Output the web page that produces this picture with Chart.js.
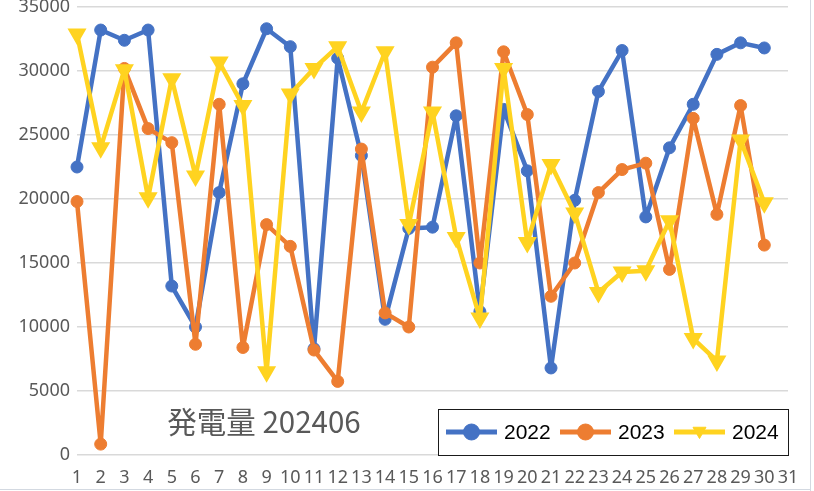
<!DOCTYPE html>
<html>
<head>
<meta charset="utf-8">
<script src="https://cdn.jsdelivr.net/npm/chart.js@4/dist/chart.umd.min.js"></script>
<style>
html,body{margin:0;padding:0;background:#fff;overflow:hidden}
#wrap{position:relative;width:814px;height:491px}
canvas{display:block}
</style>
</head>
<body>
<div id="wrap"><canvas id="c" width="814" height="491"></canvas></div>
<script>
// ---- data ----
const days = ['1','2','3','4','5','6','7','8','9','10','11','12','13','14','15','16','17','18','19','20','21','22','23','24','25','26','27','28','29','30','31'];
const yTicks = [0, 5000, 10000, 15000, 20000, 25000, 30000, 35000];
const seriesNames = ['2022', '2023', '2024'];
const chartTitle = '発電量 202406';
const s2022 = [22500, 33200, 32400, 33200, 13200, 10000, 20500, 29000, 33300, 31900, 8300, 31000, 23400, 10600, 17700, 17800, 26500, 11200, 27000, 22200, 6800, 19900, 28400, 31600, 18600, 24000, 27400, 31300, 32200, 31800, null];
const s2023 = [19800, 850, 30200, 25500, 24400, 8650, 27400, 8400, 18000, 16300, 8200, 5750, 23900, 11100, 10000, 30300, 32200, 15000, 31500, 26600, 12400, 15000, 20500, 22300, 22800, 14500, 26300, 18800, 27300, 16400, null];
const s2024 = [32900, 24000, 30100, 20100, 29400, 21800, 30700, 27300, 6500, 28200, 30200, 31900, 26800, 31500, 18000, 26800, 17000, 10700, 30200, 16600, 22700, 18900, 12700, 14300, 14400, 18300, 9100, 7350, 24600, 19700, null];

const colors = ['#4472C4', '#ED7D31', '#FFD320'];
const xFont = {family: '"Noto Sans", "Open Sans", sans-serif', size: 18, lineHeight: 1.0};
const yFont = {family: '"Noto Sans", "Open Sans", sans-serif', size: 18, lineHeight: 0.7};

function mkSet(label, data, color, style, order) {
  const tri = style === 'triangle';
  return {
    label: label,
    data: data,
    borderColor: color,
    backgroundColor: color,
    borderWidth: 4.5,
    borderJoinStyle: 'round',
    borderCapStyle: 'round',
    tension: 0,
    pointStyle: style,
    pointRotation: tri ? 180 : 0,
    pointRadius: tri ? 9 : 6,
    pointHoverRadius: tri ? 9 : 6,
    pointBorderWidth: tri ? 2 : 1,
    pointBackgroundColor: color,
    pointBorderColor: color,
    order: order,
    clip: false,
    spanGaps: false
  };
}

const overlayPlugin = {
  id: 'overlay',
  afterDraw(chart) {
    const ctx = chart.ctx;
    const ca = chart.chartArea;
    ctx.save();
    // title inside plot
    ctx.font = '29.5px "Noto Sans CJK JP", "Noto Sans", sans-serif';
    ctx.fillStyle = '#595959';
    ctx.textAlign = 'center';
    ctx.textBaseline = 'middle';
    ctx.fillText(chartTitle, ca.left + 187, ca.bottom - 33);

    // legend box
    const bw = 350, bh = 46;
    const bx = ca.right - bw, by = ca.bottom - bh;
    ctx.fillStyle = '#ffffff';
    ctx.fillRect(bx, by, bw, bh);
    ctx.strokeStyle = '#1a1a1a';
    ctx.lineWidth = 1;
    ctx.strokeRect(Math.round(bx) + 0.5, Math.round(by) + 0.5, bw, bh);
    const cy = by + 23;
    chart.data.datasets.forEach((ds, i) => {
      const lx = bx + 8 + i * 114;
      ctx.strokeStyle = ds.borderColor;
      ctx.lineWidth = 5;
      ctx.beginPath();
      ctx.moveTo(lx, cy);
      ctx.lineTo(lx + 51, cy);
      ctx.stroke();
      ctx.fillStyle = ds.borderColor;
      ctx.lineWidth = 1;
      const tri = ds.pointStyle === 'triangle';
      Chart.helpers.drawPoint(ctx, {
        pointStyle: ds.pointStyle,
        rotation: tri ? 180 : 0,
        radius: tri ? 7.5 : 8,
        borderWidth: 1
      }, lx + 25.5, cy + (tri ? -1 : 0));
      ctx.fillStyle = '#000000';
      ctx.font = '21px "Liberation Sans", Arial, sans-serif';
      ctx.textAlign = 'left';
      ctx.textBaseline = 'middle';
      ctx.fillText(ds.label, lx + 58, cy + 1);
    });

    // outer frame edges
    ctx.strokeStyle = '#d3d9e1';
    ctx.lineWidth = 1;
    ctx.beginPath();
    ctx.moveTo(810.5, 0); ctx.lineTo(810.5, 491);
    ctx.moveTo(0, 489.5); ctx.lineTo(811, 489.5);
    ctx.stroke();
    ctx.restore();
  }
};

new Chart(document.getElementById('c'), {
  type: 'line',
  data: {
    labels: days,
    datasets: [
      mkSet(seriesNames[0], s2022, colors[0], 'circle', 3),
      mkSet(seriesNames[1], s2023, colors[1], 'circle', 2),
      mkSet(seriesNames[2], s2024, colors[2], 'triangle', 1)
    ]
  },
  options: {
    responsive: false,
    animation: false,
    devicePixelRatio: 1,
    layout: {autoPadding: false, padding: {top: 7, right: 26, left: 0, bottom: 0}},
    plugins: {
      legend: {display: false},
      title: {display: false},
      tooltip: {enabled: false}
    },
    scales: {
      x: {
        type: 'category',
        offset: false,
        grid: {display: false, drawTicks: false},
        border: {display: false},
        ticks: {
          autoSkip: false, maxRotation: 0, minRotation: 0,
          padding: 14, color: '#595959', font: xFont
        },
        afterFit(s) { s.height = 36; s.paddingLeft = 0; s.paddingRight = 0; }
      },
      y: {
        min: yTicks[0],
        max: yTicks[yTicks.length - 1],
        afterBuildTicks(s) { s.ticks = yTicks.map(v => ({value: v})); },
        ticks: {
          callback: v => String(v),
          padding: 7, color: '#595959', font: yFont
        },
        grid: {color: '#d9d9d9', lineWidth: 1.5, drawTicks: false},
        border: {display: false},
        afterFit(s) { s.width = 77; s.paddingTop = 0; s.paddingBottom = 0; }
      }
    }
  },
  plugins: [overlayPlugin]
});
</script>
</body>
</html>
